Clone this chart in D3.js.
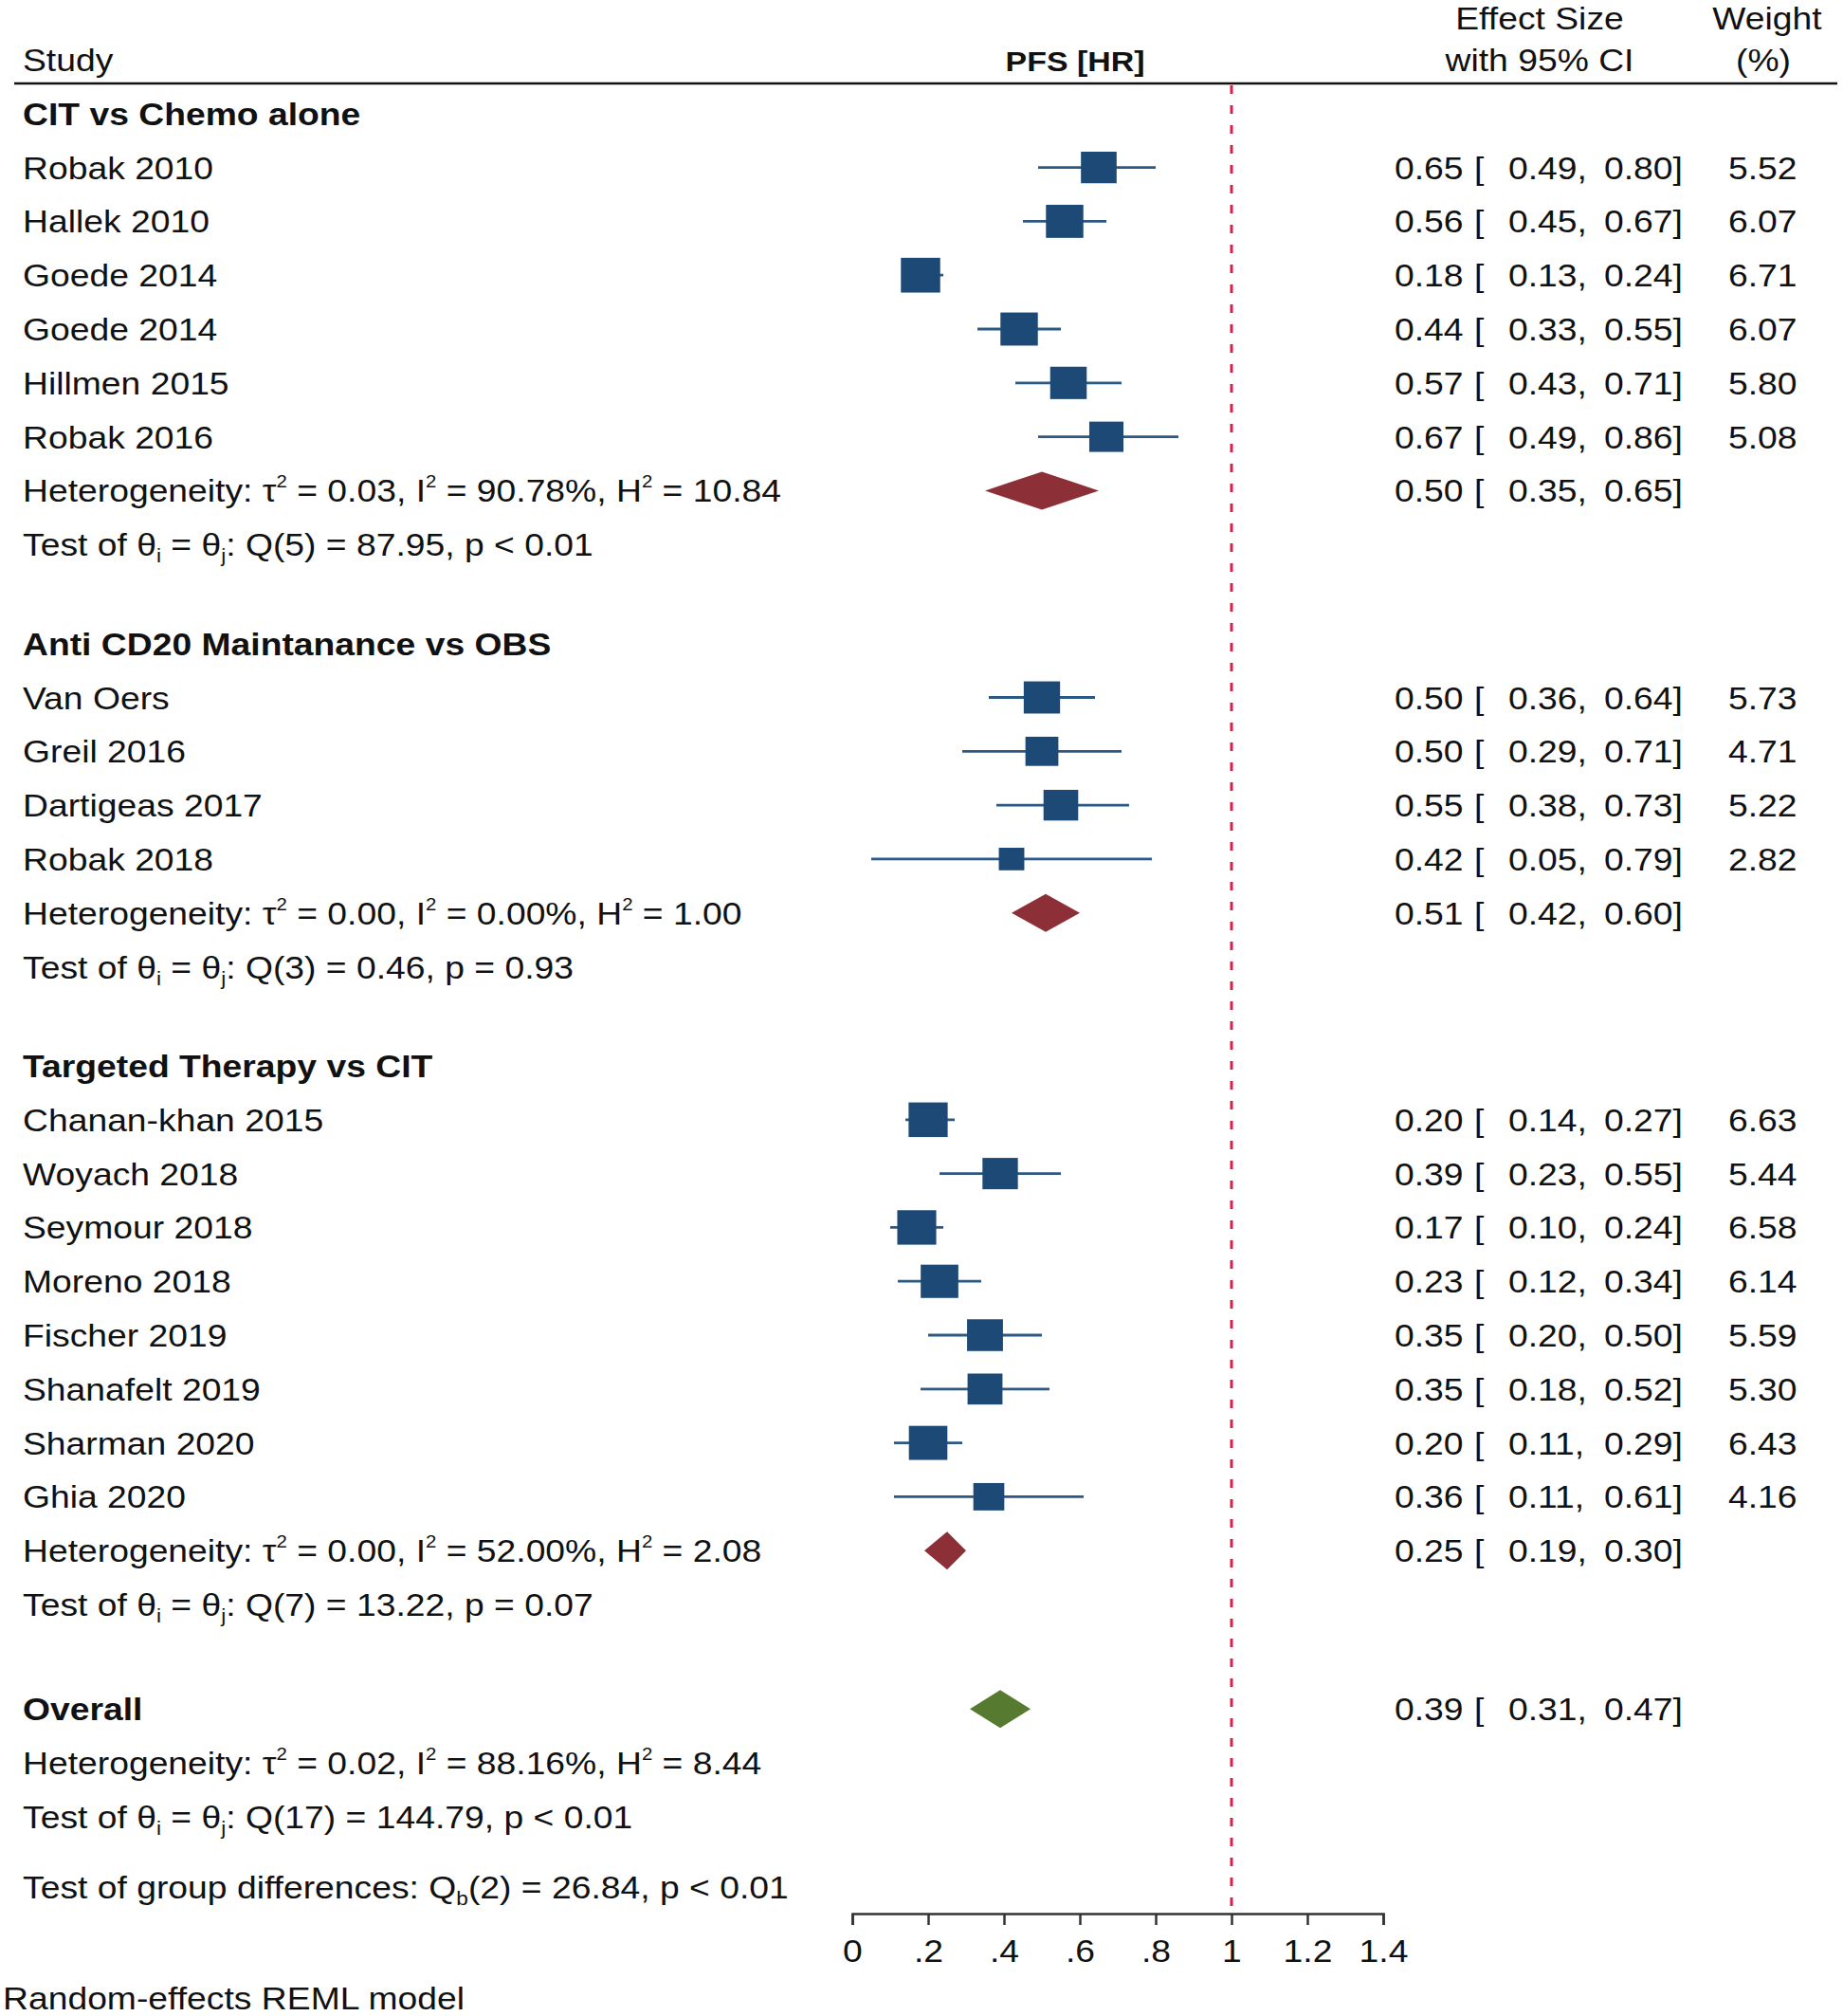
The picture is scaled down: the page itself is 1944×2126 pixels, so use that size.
<!DOCTYPE html>
<html>
<head>
<meta charset="utf-8">
<script src="https://cdn.jsdelivr.net/npm/d3@7"></script>
<style>
  body { margin: 0; background: #fff; }
  svg text { font-family: "Liberation Sans", Arial, sans-serif; fill: #111; }
</style>
</head>
<body>
<div id="forest"></div>
<script>
// ---- data ----
const groupNames = ["CIT vs Chemo alone", "Anti CD20 Maintanance vs OBS", "Targeted Therapy vs CIT"];

const studyGroup = [0, 0, 0, 0, 0, 0, 1, 1, 1, 1, 2, 2, 2, 2, 2, 2, 2, 2];
const studyNames = ["Robak 2010", "Hallek 2010", "Goede 2014", "Goede 2014", "Hillmen 2015", "Robak 2016",
    "Van Oers", "Greil 2016", "Dartigeas 2017", "Robak 2018",
    "Chanan-khan 2015", "Woyach 2018", "Seymour 2018", "Moreno 2018", "Fischer 2019", "Shanafelt 2019", "Sharman 2020", "Ghia 2020"];
const studyES = [0.65, 0.56, 0.18, 0.44, 0.57, 0.67, 0.50, 0.50, 0.55, 0.42, 0.20, 0.39, 0.17, 0.23, 0.35, 0.35, 0.20, 0.36];
const studyLo = [0.49, 0.45, 0.13, 0.33, 0.43, 0.49, 0.36, 0.29, 0.38, 0.05, 0.14, 0.23, 0.10, 0.12, 0.20, 0.18, 0.11, 0.11];
const studyHi = [0.80, 0.67, 0.24, 0.55, 0.71, 0.86, 0.64, 0.71, 0.73, 0.79, 0.27, 0.55, 0.24, 0.34, 0.50, 0.52, 0.29, 0.61];
const studyWeight = [5.52, 6.07, 6.71, 6.07, 5.80, 5.08, 5.73, 4.71, 5.22, 2.82, 6.63, 5.44, 6.58, 6.14, 5.59, 5.30, 6.43, 4.16];

const groupES = [0.50, 0.51, 0.25];
const groupLo = [0.35, 0.42, 0.19];
const groupHi = [0.65, 0.60, 0.30];
const groupTau2 = ["0.03", "0.00", "0.00"];
const groupI2 = ["90.78%", "0.00%", "52.00%"];
const groupH2 = ["10.84", "1.00", "2.08"];
const groupQ = ["Q(5) = 87.95, p < 0.01", "Q(3) = 0.46, p = 0.93", "Q(7) = 13.22, p = 0.07"];

const overall = {es: 0.39, lo: 0.31, hi: 0.47, tau2: "0.02", i2: "88.16%", h2: "8.44", q: "Q(17) = 144.79, p < 0.01"};
const groupDiff = "(2) = 26.84, p < 0.01";

const xTicks = [0, 0.2, 0.4, 0.6, 0.8, 1, 1.2, 1.4];
const xTickLabels = ["0", ".2", ".4", ".6", ".8", "1", "1.2", "1.4"];

// ---- layout ----
const W = 1944, H = 2126;
const stretch = 1.13;          // the figure is a little wider than tall
const fs = 33;
const rowStep = 56.8, firstRow = 119.8, gapRows = 0.84;
const col = {label: 24, es: 1471, br: 1555, lo: 1591, hi: 1692, wt: 1823};
const axisY = 2018;

const svg = d3.select("#forest").append("svg")
    .attr("width", W).attr("height", H);

const x = d3.scaleLinear().domain([0, 1.4]).range([899, 1459]);
const boxSize = d3.scaleSqrt().domain([0, d3.max(studyWeight)]).range([0, 36.7]);

// build the list of rows
var rows = [], u = 0;
groupNames.forEach((g, gi) => {
    rows.push({type: "header", text: g, u: u}); u++;
    studyNames.forEach((s, i) => {
        if (studyGroup[i] !== gi) return;
        rows.push({type: "study", i: i, u: u}); u++;
    });
    rows.push({type: "het", es: groupES[gi], lo: groupLo[gi], hi: groupHi[gi],
        tau2: groupTau2[gi], i2: groupI2[gi], h2: groupH2[gi], fill: "#8d2f37", u: u}); u++;
    rows.push({type: "test", q: groupQ[gi], u: u}); u++;
    u += gapRows;
});
u += 0.1;
rows.push({type: "header", text: "Overall", es: overall.es, lo: overall.lo, hi: overall.hi, fill: "#567a2f", u: u}); u++;
rows.push({type: "het", tau2: overall.tau2, i2: overall.i2, h2: overall.h2, u: u}); u++;
rows.push({type: "test", q: overall.q, u: u}); u++;
rows.push({type: "diff", u: u + 0.3});

const y = d3.scaleLinear().domain([0, 1]).range([firstRow, firstRow + rowStep]);

function txt(g, px, py, parts, opts) {
    opts = opts || {};
    var t = g.append("text")
        .attr("transform", `translate(${px},${py}) scale(${stretch},1)`)
        .attr("font-size", opts.size || fs)
        .attr("font-weight", opts.bold ? "bold" : null)
        .attr("text-anchor", opts.anchor || "start");
    if (typeof parts === "string") parts = [{t: parts}];
    var shift = 0;
    parts.forEach(p => {
        var off = p.sup ? -15 : p.sub ? 7 : 0;
        t.append("tspan")
            .attr("dy", off - shift)
            .attr("font-size", p.sup ? 18 : p.sub ? 20 : null)
            .text(p.t);
        shift = off;
    });
    return t;
}

function effectText(g, py, es, lo, hi) {
    txt(g, col.es, py, es.toFixed(2));
    txt(g, col.br, py, "[");
    txt(g, col.lo, py, lo.toFixed(2) + ",");
    txt(g, col.hi, py, hi.toFixed(2) + "]");
}

function diamond(g, cy, es, lo, hi, fill) {
    g.append("path")
        .attr("d", `M${x(lo)},${cy}L${x(es)},${cy - 20}L${x(hi)},${cy}L${x(es)},${cy + 20}Z`)
        .attr("fill", fill);
}

// header
const head = svg.append("g");
txt(head, 24, 75, "Study");
txt(head, 1134, 75, "PFS [HR]", {bold: true, anchor: "middle", size: 30});
txt(head, 1624, 31, "Effect Size", {anchor: "middle"});
txt(head, 1624, 75, "with 95% CI", {anchor: "middle"});
txt(head, 1864, 31, "Weight", {anchor: "middle"});
txt(head, 1860, 75, "(%)", {anchor: "middle"});
head.append("line")
    .attr("x1", 15).attr("x2", 1938).attr("y1", 88).attr("y2", 88)
    .attr("stroke", "#111").attr("stroke-width", 2.5);

// reference line at HR = 1
svg.append("line")
    .attr("x1", x(1)).attr("x2", x(1))
    .attr("y1", 90).attr("y2", axisY)
    .attr("stroke", "#d91f4b").attr("stroke-width", 3)
    .attr("stroke-dasharray", "9,12");

const body = svg.append("g");
rows.forEach(r => {
    var cy = y(r.u), base = cy + 12;
    if (r.type === "header") {
        txt(body, col.label, base, r.text, {bold: true});
        if (r.es !== undefined) {
            diamond(body, cy, r.es, r.lo, r.hi, r.fill);
            effectText(body, base, r.es, r.lo, r.hi);
        }
    } else if (r.type === "study") {
        var i = r.i, s = boxSize(studyWeight[i]);
        txt(body, col.label, base, studyNames[i]);
        body.append("line")
            .attr("x1", x(studyLo[i])).attr("x2", x(studyHi[i]))
            .attr("y1", cy).attr("y2", cy)
            .attr("stroke", "#2c5884").attr("stroke-width", 2.8);
        body.append("rect")
            .attr("x", x(studyES[i]) - s * stretch / 2).attr("y", cy - s / 2)
            .attr("width", s * stretch).attr("height", s)
            .attr("fill", "#1c4976");
        effectText(body, base, studyES[i], studyLo[i], studyHi[i]);
        txt(body, col.wt, base, studyWeight[i].toFixed(2));
    } else if (r.type === "het") {
        txt(body, col.label, base, [
            {t: "Heterogeneity: τ"}, {t: "2", sup: true}, {t: " = " + r.tau2 + ", I"}, {t: "2", sup: true},
            {t: " = " + r.i2 + ", H"}, {t: "2", sup: true}, {t: " = " + r.h2}]);
        if (r.es !== undefined) {
            diamond(body, cy, r.es, r.lo, r.hi, r.fill);
            effectText(body, base, r.es, r.lo, r.hi);
        }
    } else if (r.type === "test") {
        txt(body, col.label, base, [
            {t: "Test of θ"}, {t: "i", sub: true}, {t: " = θ"}, {t: "j", sub: true}, {t: ": " + r.q}]);
    } else if (r.type === "diff") {
        txt(body, col.label, base, [
            {t: "Test of group differences: Q"}, {t: "b", sub: true}, {t: groupDiff}]);
    }
});

// x axis
const axisG = svg.append("g")
    .attr("transform", `translate(0,${axisY})`)
    .call(d3.axisBottom(x).tickValues(xTicks)
        .tickFormat((d, i) => xTickLabels[i])
        .tickSize(12).tickSizeOuter(12));
axisG.select(".domain").attr("stroke", "#333").attr("stroke-width", 2.5);
axisG.selectAll(".tick line").attr("stroke", "#333").attr("stroke-width", 2.5);
axisG.selectAll(".tick text")
    .attr("y", 0).attr("dy", 0)
    .attr("transform", `translate(0,51) scale(${stretch},1)`)
    .attr("font-size", 33)
    .attr("font-family", "Liberation Sans, Arial, sans-serif")
    .attr("fill", "#111");

txt(svg, 3, 2119, "Random-effects REML model");
</script>
</body>
</html>
